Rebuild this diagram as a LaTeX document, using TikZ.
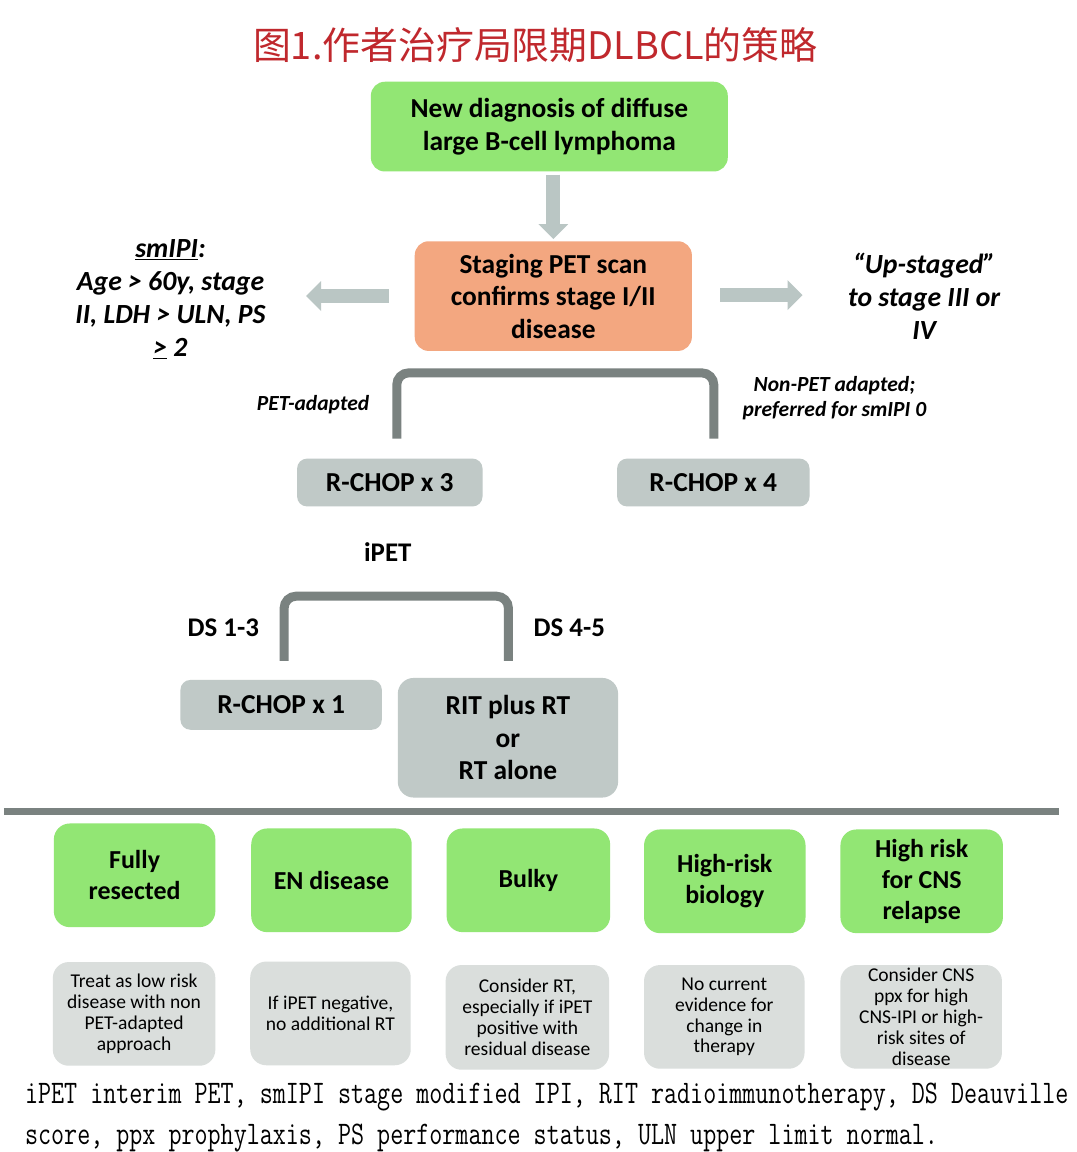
\documentclass[tikz,border=0pt]{standalone}
\usepackage{fontspec}
\setmainfont{Carlito}
\newfontfamily\cjk{Noto Sans CJK SC}
\usepackage{graphicx}
\usetikzlibrary{arrows.meta}
\definecolor{boxgreen}{RGB}{146,230,116}
\definecolor{boxorange}{RGB}{243,167,128}
\definecolor{boxgray}{RGB}{192,201,199}
\definecolor{notegray}{RGB}{218,222,220}
\definecolor{arrowgray}{RGB}{186,198,196}
\definecolor{brackgray}{RGB}{122,130,128}
\definecolor{titlered}{RGB}{192,40,45}
\begin{document}
\begin{tikzpicture}[x=1pt,y=-1pt,
  mainbox/.style={rounded corners=14pt, inner sep=0pt, align=center,
    font=\fontsize{27.5}{32.5}\selectfont\bfseries},
  gbox/.style={mainbox, fill=boxgreen},
  obox/.style={mainbox, fill=boxorange},
  rbox/.style={mainbox, fill=boxgray},
  nbox/.style={rounded corners=16pt, inner sep=0pt, align=center, fill=notegray,
    minimum width=162, minimum height=104, font=\fontsize{19.6}{21}\selectfont},
  bgbox/.style={gbox, rounded corners=16pt, minimum width=162, minimum height=104,
    font=\fontsize{26}{31}\selectfont\bfseries},
  itlabel/.style={align=center, inner sep=0pt, font=\fontsize{27.8}{33}\selectfont\bfseries\itshape},
  smlabel/.style={align=center, inner sep=0pt, font=\fontsize{21.6}{25}\selectfont\bfseries\itshape},
  bdlabel/.style={align=center, inner sep=0pt, font=\fontsize{27}{30}\selectfont\bfseries},
  barrow/.style={draw=arrowgray, line width=14pt, -{Triangle[width=29pt,length=15pt]}},
  bracket/.style={draw=brackgray, line width=9pt, rounded corners=12pt},
  foot/.style={anchor=base west, inner sep=0pt, font=\ttfamily\fontsize{25.4}{26}\selectfont}
]
\fill[white] (0,0) rectangle (1080,1152);

% title
\node[inner sep=0pt, text=titlered, font=\cjk\fontsize{38}{40}\selectfont] (title) at (537,45) {图1.作者治疗局限期DLBCL的策略};

% main flow
\node[gbox, minimum width=358, minimum height=90] (top) at (551,127) {New diagnosis of diffuse\\large B-cell lymphoma};
\node[obox, minimum width=278, minimum height=110] (stage) at (555,297) {Staging PET scan\\confirms stage I/II\\disease};
\draw[barrow, shorten <=3pt, shorten >=2pt] (top.south -| stage.north) -- (stage.north);

\coordinate (lefttip) at (307,297);
\coordinate (righttip) at (805,296);
\draw[barrow, shorten <=26pt] (stage.west) -- (lefttip);
\draw[barrow, shorten <=28pt] (stage.east |- righttip) -- (righttip);

\node[itlabel] (smipi) at (171,300) {\underline{smIPI}:\\Age > 60y, stage\\II, LDH > ULN, PS\\\underline{>} 2};
\node[itlabel] (upstaged) at (927,297) {“Up-staged”\\to stage III or\\IV};

% first bracket
\coordinate (b1l) at (398,440);
\coordinate (b1r) at (716,440);
\draw[bracket] (b1l) -- (398,374) -- (716,374) -- (b1r);
\node[smlabel] (petad) at (314,406) {PET-adapted};
\node[smlabel] (nonpet) at (837,399) {Non-PET adapted;\\preferred for smIPI 0};

\node[rbox, minimum width=186, minimum height=48, rounded corners=10pt] (rc3) at (391,484) {R-CHOP x 3};
\node[rbox, minimum width=193, minimum height=48, rounded corners=10pt] (rc4) at (715.5,484) {R-CHOP x 4};

% second bracket
\node[bdlabel] (ipet) at (389,554) {iPET};
\coordinate (b2l) at (285,663);
\coordinate (b2r) at (510,663);
\draw[bracket] (b2l) -- (285,598) -- (510,598) -- (b2r);
\node[bdlabel] (ds13) at (224,630) {DS 1-3};
\node[bdlabel] (ds45) at (571,630) {DS 4-5};

\node[rbox, minimum width=202, minimum height=50, rounded corners=10pt] (rc1) at (282,707) {R-CHOP x 1};
\node[rbox, minimum width=221, minimum height=120, rounded corners=16pt] (rit) at (509.5,740) {RIT plus RT\\or\\RT alone};

% separator
\coordinate (sepl) at (4,814);
\coordinate (sepr) at (1062,814);
\draw[brackgray, line width=7pt] (sepl) -- (sepr);

% bottom categories
\node[bgbox] (g1) at (135,878) {Fully\\resected};
\node[bgbox, minimum width=161] (g2) at (332.5,883) {EN disease};
\node[bgbox, minimum width=164] (g3) at (530,883) {Bulky};
\node[bgbox] (g4) at (727,884) {High-risk\\biology};
\node[bgbox, minimum width=163] (g5) at (924.5,884) {High risk\\for CNS\\relapse};

\node[nbox, minimum width=163] (n1) at (134.5,1017) {Treat as low risk\\disease with non\\PET-adapted\\approach};
\node[nbox, minimum width=161] (n2) at (331.5,1016.5) {If iPET negative,\\no additional RT};
\node[nbox, minimum width=164, minimum height=105] (n3) at (529,1020.5) {Consider RT,\\especially if iPET\\positive with\\residual disease};
\node[nbox, minimum width=161] (n4) at (726.5,1020) {No current\\evidence for\\change in\\therapy};
\node[nbox, minimum width=162] (n5) at (924,1020) {Consider CNS\\ppx for high\\CNS-IPI or high-\\risk sites of\\disease};

% footnote
\node[foot] (foot1) at (25,1107)
  {\scalebox{1}[1.3]{iPET interim PET, smIPI stage modified IPI, RIT radioimmunotherapy, DS Deauville}};
\node[foot] (foot2) at (25,1148)
  {\scalebox{1}[1.3]{score, ppx prophylaxis, PS performance status, ULN upper limit normal.}};
\end{tikzpicture}
\end{document}
